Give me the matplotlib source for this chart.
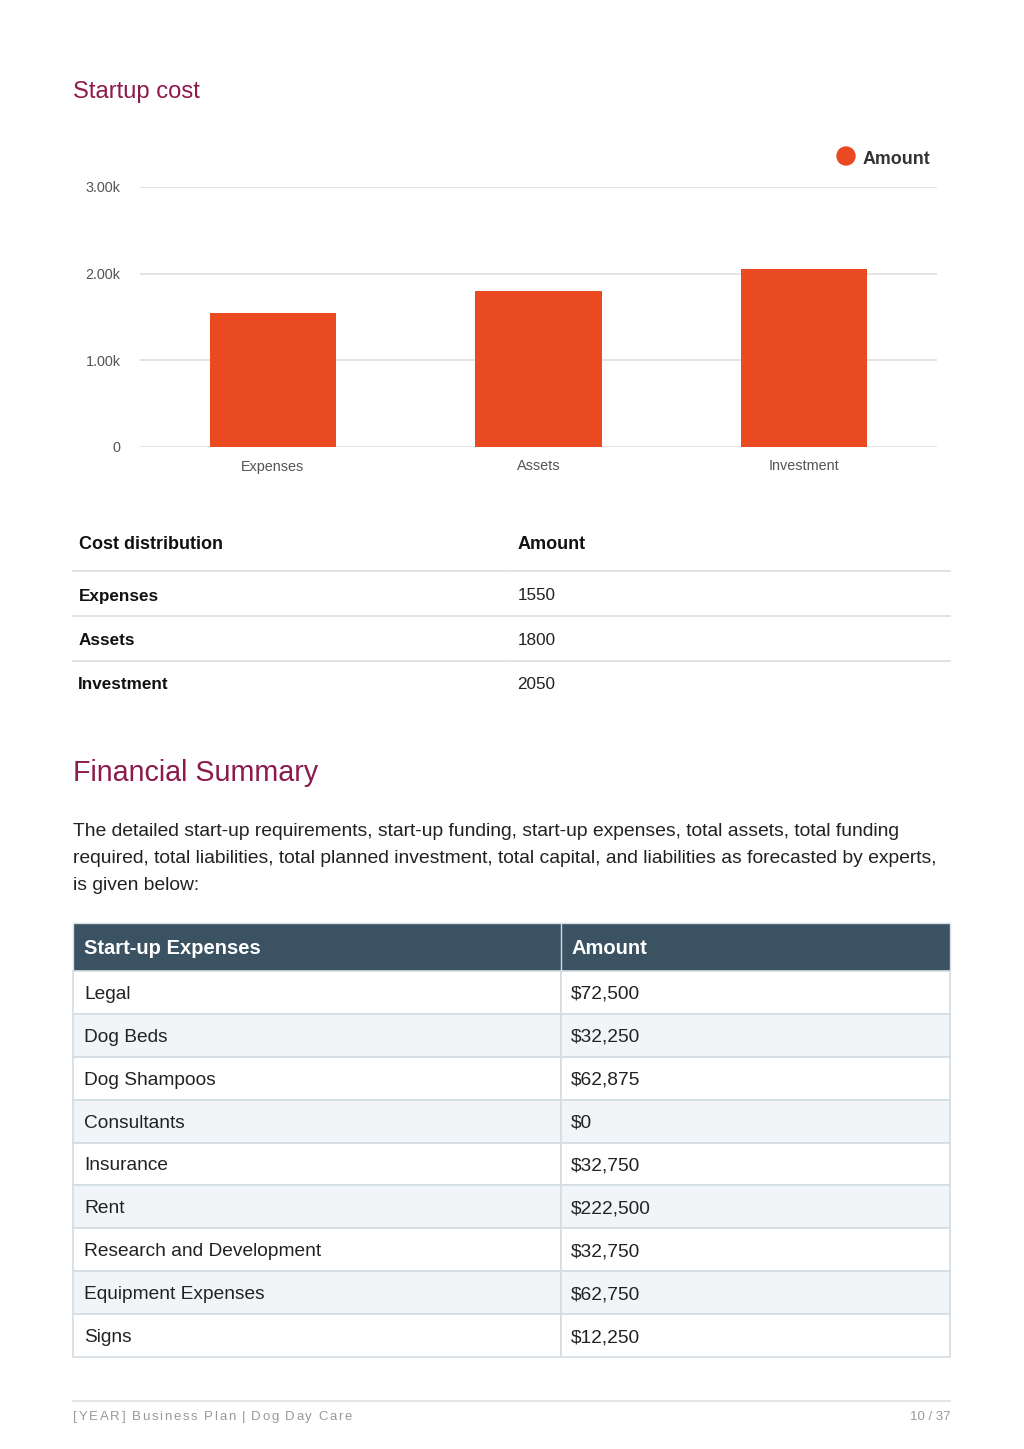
import matplotlib.pyplot as plt
from matplotlib.patches import Rectangle, Ellipse
from matplotlib.lines import Line2D

plt.rcParams['font.family'] = ['Liberation Sans', 'DejaVu Sans']

# chart data
categories = ['Expenses', 'Assets', 'Investment']
amounts = [1550, 1800, 2050]
y_ticks = [0, 1000, 2000, 3000]
y_ticklabels = ['0', '1.00k', '2.00k', '3.00k']

# start-up expenses table
expense_items = ['Legal', 'Dog Beds', 'Dog Shampoos', 'Consultants', 'Insurance',
                 'Rent', 'Research and Development', 'Equipment Expenses', 'Signs']
expense_amounts = [72500, 32250, 62875, 0, 32750, 222500, 32750, 62750, 12250]

W, H = 1024, 1449
fig = plt.figure(figsize=(W / 100, H / 100), dpi=100)
fig.patch.set_facecolor('white')


def fx(x):
    return x / W


def fy(y):
    return 1 - y / H


def ftext(x, y, s, **kw):
    # small nudge so the visual centre matches the page
    return fig.text(fx(x), fy(y + 2), s, **kw)


def hline(x0, x1, y, color='#dddddd', lw=1.2):
    fig.add_artist(Line2D([fx(x0), fx(x1)], [fy(y), fy(y)], color=color, lw=lw,
                          transform=fig.transFigure))


def rect(x0, y0, x1, y1, fc, ec='none', lw=1):
    fig.add_artist(Rectangle((fx(x0), fy(y1)), fx(x1) - fx(x0), fy(y0) - fy(y1),
                             facecolor=fc, edgecolor=ec, lw=lw, transform=fig.transFigure))


title_col = '#8c1a4b'
bar_col = '#e94a21'

# title
ftext(73, 90, 'Startup cost', fontsize=17.1, color=title_col, va='center')

# bar chart
ax = fig.add_axes([fx(140), fy(447), fx(937) - fx(140), fy(187) - fy(447)])
ax.bar(range(len(categories)), amounts, width=0.475, color=bar_col, zorder=3)
ax.set_xlim(-0.5, len(categories) - 0.5)
ax.set_ylim(0, 3000)
ax.set_yticks(y_ticks)
ax.set_yticklabels(y_ticklabels)
ax.set_xticks(range(len(categories)))
ax.set_xticklabels(categories)
ax.tick_params(axis='y', length=0, pad=14, labelsize=10.4, labelcolor='#555555')
ax.tick_params(axis='x', length=0, pad=9, labelsize=10.4, labelcolor='#555555')
ax.grid(axis='y', color='#dedede', lw=1.2, zorder=0)
for s in ax.spines.values():
    s.set_visible(False)

# legend
fig.add_artist(Ellipse((fx(846), fy(156)), 18 / W, 18 / H, color=bar_col,
                       transform=fig.transFigure))
ftext(863, 158, 'Amount', fontsize=12.9, fontweight='bold', color='#333333', va='center')

# cost distribution table
ftext(79, 543, 'Cost distribution', fontsize=13, fontweight='bold', color='#111111', va='center')
ftext(518, 543, 'Amount', fontsize=13, fontweight='bold', color='#111111', va='center')
row_y = [594, 639, 683]
for yl in [571, 616, 661]:
    hline(73, 509, yl)
    hline(511, 950, yl)
for i, (c, v) in enumerate(zip(categories, amounts)):
    xoff = 78 if i == 2 else 79
    ftext(xoff, row_y[i], c, fontsize=12.3, fontweight='bold', color='#111111', va='center')
    ftext(517 if i == 2 else 518, row_y[i], str(v), fontsize=12.3, color='#222222', va='center')

# financial summary
ftext(73, 771, 'Financial Summary', fontsize=20.6, color=title_col, va='center')
para = ['The detailed start-up requirements, start-up funding, start-up expenses, total assets, total funding',
        'required, total liabilities, total planned investment, total capital, and liabilities as forecasted by experts,',
        'is given below:']
for i, line in enumerate(para):
    ftext(73, 830 + i * 26.5, line, fontsize=13.9, color='#222222', va='center')

# start-up expenses table
border = '#d3dde3'
top, head_bot = 923, 971
row_h = (1357 - head_bot) / len(expense_items)
rect(73, top, 950, head_bot, '#3b5262', ec=border)
fig.add_artist(Line2D([fx(561), fx(561)], [fy(top), fy(head_bot)], color=border, lw=1,
                      transform=fig.transFigure))
ftext(84, (top + head_bot) / 2, 'Start-up Expenses', fontsize=14.5, fontweight='bold',
      color='white', va='center')
ftext(571, (top + head_bot) / 2, 'Amount', fontsize=14.5, fontweight='bold',
      color='white', va='center')
for i, (item, amt) in enumerate(zip(expense_items, expense_amounts)):
    y0 = head_bot + i * row_h
    y1 = y0 + row_h
    fc = 'white' if i % 2 == 0 else '#f1f5f8'
    rect(73, y0, 561, y1, fc, ec=border, lw=1.2)
    rect(561, y0, 950, y1, fc, ec=border, lw=1.2)
    ym = (y0 + y1) / 2
    ftext(84, ym, item, fontsize=13.8, color='#222222', va='center')
    ftext(571, ym, '${:,}'.format(amt), fontsize=13.8, color='#222222', va='center')

# footer (letter-spaced text, drawn char by char)
hline(73, 950, 1401, color='#e6e6e6', lw=1.5)
renderer = fig.canvas.get_renderer()
footer = '[YEAR] Business Plan | Dog Day Care'
xc = 73
for ch in footer:
    t = ftext(xc, 1415, ch, fontsize=9.5, color='#999999', va='center')
    wpx = t.get_window_extent(renderer).width if ch != ' ' else 2.6
    xc += wpx + 1.75
ftext(950, 1415, '10 / 37', fontsize=9.5, color='#999999', va='center', ha='right')

fig.savefig('out.png', dpi=100, facecolor='white')
